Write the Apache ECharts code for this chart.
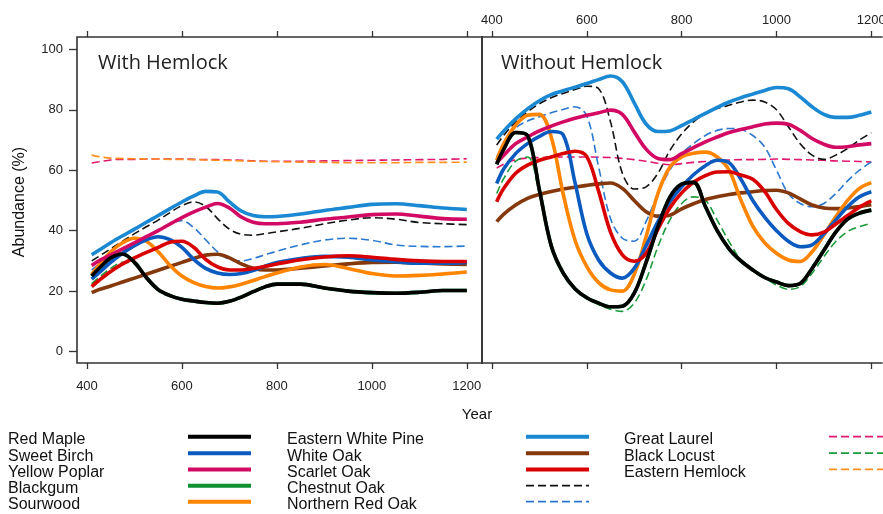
<!DOCTYPE html>
<html><head><meta charset="utf-8">
<script src="https://cdn.jsdelivr.net/npm/echarts@6/dist/echarts.min.js"></script>
<style>html,body{margin:0;padding:0;background:#fff}#c{width:883px;height:514px}</style>
</head><body><div id="c"></div><script>
// ---------- DATA ----------
const yearsWith = [410,425,450,475,500,525,550,575,600,625,650,675,700,725,750,775,800,850,900,950,1000,1050,1100,1150,1200];
const yearsWithout = [410,425,450,475,500,525,550,575,600,625,650,675,700,725,750,775,800,825,850,875,900,925,950,975,1000,1025,1050,1075,1100,1125,1150,1175,1200];
const xTickValues = [400,600,800,1000,1200];
const yTickValues = [0,20,40,60,80,100];
const panelTitles = ['With Hemlock','Without Hemlock'];
const speciesNames = ['Red Maple','Sweet Birch','Yellow Poplar','Blackgum','Sourwood','Eastern White Pine','White Oak','Scarlet Oak','Chestnut Oak','Northern Red Oak','Great Laurel','Black Locust','Eastern Hemlock'];

// With Hemlock
const redMapleWith      = [25,27.5,31,32.3,29.5,24.5,20.5,18.5,17.3,16.7,16.2,16,16.6,18,19.8,21.4,22.3,22.3,21,20,19.5,19.3,19.6,20.2,20.2];
const sweetBirchWith    = [24,26,29.5,32.5,35,37,38,37,34.5,30.5,27.5,26,25.5,25.8,26.8,28.2,29.5,30.8,31.5,31.2,30.3,29.7,29.2,29.2,29.5];
const yellowPoplarWith  = [28.5,30,32,34,36,38,40,42.2,44.3,46.2,47.8,49,47.5,44.5,42.8,42.3,42.3,42.8,43.8,44.5,45.3,45.5,44.8,44,43.8];
const blackgumWith      = [25,27.5,31,32.3,29.5,24.5,20.5,18.5,17.3,16.7,16.2,16,16.6,18,19.8,21.4,22.3,22.3,21,20,19.5,19.3,19.6,20.2,20.2];
const sourwoodWith      = [25.5,28.5,33,36,37.5,36.5,33,28.5,25,22.8,21.5,21,21.4,22.3,23.5,24.8,26,28,28.8,27.5,25.8,25,25.2,25.7,26.3];
const whitePineWith     = [32,33.5,36,38.3,40.5,42.8,45,47.3,49.5,51.5,53,52.8,49.5,46.5,45,44.6,44.7,45.5,46.7,47.7,48.7,48.9,48.3,47.5,47];
const whiteOakWith      = [19.5,20.5,21.7,23,24.3,25.6,26.9,28.2,29.5,30.8,31.9,32.2,31,29,27.6,27,27,27.6,28.3,29,29.5,29.6,29.3,29,28.8];
const scarletOakWith    = [21.5,23.5,26.5,29,31,32.8,34.5,36.2,36.5,34.5,30.5,28,27,27,27.5,28.2,29,30.4,31.3,31.7,31.2,30.5,30,29.8,29.8];
const chestnutOakWith   = [30,31.5,34,36.5,39,41.3,43.5,46,48.3,49.5,48,44,40.5,38.8,38.5,39,39.6,40.8,42.3,43.5,44.3,43.8,42.7,42.3,42];
const nRedOakWith       = [27,28.8,31,33.5,35.8,38,40.3,42.3,43.3,41,37,33,30.5,30,30.8,32,33.2,35.3,36.9,37.5,36.8,35.3,34.8,34.7,34.9];
const greatLaurelWith   = [62.4,62.8,63.4,63.6,63.6,63.7,63.7,63.7,63.7,63.6,63.5,63.5,63.4,63.3,63.1,63,63,63,63.1,63.2,63.3,63.4,63.5,63.6,63.8];
const blackLocustWith   = [22.5,24.5,27.5,29.5,29.5,24,20.2,18.3,17.2,16.5,16,15.8,16.4,17.8,19.6,21.3,22.2,22.4,21,19.8,19.2,19.1,19.5,20,20];
const hemlockWith       = [65,64.5,64,63.9,63.8,63.7,63.7,63.6,63.6,63.5,63.4,63.3,63.2,63.1,63,62.9,62.8,62.7,62.6,62.5,62.5,62.5,62.6,62.6,62.7];

// Without Hemlock
const redMapleWithout     = [62,67,72.5,71.5,53.5,35,26,20.8,17.8,16,14.8,15,19.3,29.5,41.3,51,55.4,56,48,40,34,30,27,24.5,23,21.8,22.5,27.5,33.5,39.5,43.8,45.8,46.8];
const sweetBirchWithout   = [55.6,60.5,65.5,68.8,71.2,72.8,71.8,56,39,30.3,26,24.3,27.5,35,43,49.5,54.5,58.5,61.5,63.3,62.5,57,50,44.5,40,36.5,34.7,35.3,39,43.5,47.9,51.2,52.9];
const yellowPoplarWithout = [62.5,65,68.8,71,73,74.6,76,77.2,78.2,79,79.9,78.5,72.7,67,63.9,63.5,65.5,67.5,69.4,71,72.5,73.5,74.4,75.3,75.6,75.2,73.2,70.5,68.6,67.6,67.8,68.4,68.8];
const blackgumWithout     = [62,67,72.5,71.5,53.5,35,26,20.8,17.8,16,14.8,15,19.3,29.5,41.3,51,55.4,56,48,40,34,30,27,24.5,23,21.8,22.5,27.5,33.5,39.5,43.8,45.8,46.8];
const sourwoodWithout     = [63.3,68.8,74.9,78.2,78.5,71,52.3,36.9,28.1,22.8,20.4,20,25.5,38,52.3,61,64.4,65.6,66,64.4,60,50.1,41.5,36,32.5,30.3,29.8,33,38.6,44.6,50,54,55.9];
const whitePineWithout    = [70.3,73,77,80.3,83,85,86.3,87.5,88.7,90,91.2,89.3,82.3,75.3,72.8,73,74.8,76.8,78.8,80.8,82.6,84,85.2,86.4,87.4,87,84.3,81,78.5,77.5,77.5,78.2,79.3];
const whiteOakWithout     = [43,45.5,48.5,50.7,52,53,53.8,54.4,55,55.5,55.8,54,50,46.3,44.8,45.1,47.2,48.9,50.3,51.2,52,52.5,52.9,53.3,53.4,52.5,50.5,48.5,47.5,47.3,47.5,48,48.6];
const scarletOakWithout   = [49.6,54,59,61.7,63.3,64.4,65.5,66.3,64.5,53,39.5,32,29.9,32.5,40.5,47.5,52.5,56,58.2,59.4,59.5,58.4,57,53,47,42.4,39.7,38.6,39.5,42.2,45,47.8,49.9];
const chestnutOakWithout  = [68.3,71.6,76,79.3,82,84,85.4,86.7,87.8,87,76,59,53.8,54.5,59,66.5,72,76,78.7,80.4,81.5,82.6,83.2,82.6,80,74.4,68.8,65,63.6,65,67.2,70,72.4];
const nRedOakWithout      = [64.4,68.8,74,76.3,77.7,79,80.1,81,78,61,44,37.5,36.5,43,52.3,60,65.5,68.8,71.5,73.2,73.8,73.5,71.5,67.7,60,52.3,49,47.9,49,52.3,56.5,60,62.8];
const greatLaurelWithout  = [60.7,62,63.5,64,64.2,64.3,64.4,64.4,64.4,64.3,64.2,63.9,63.5,63,62.3,61.8,62.2,62.6,62.9,63.2,63.4,63.5,63.5,63.6,63.7,63.6,63.5,63.4,63.3,63.1,63,62.9,62.7];
const blackLocustWithout  = [52.3,57.3,63,64.4,52,34,25.5,20.5,17.5,15.5,14,13.3,16,23.7,34.7,43.5,49,51.2,50.1,43.5,36.4,30.3,27,24.5,22,20.6,21.5,25.9,31.4,36.4,39.7,41.3,42.4];
const hemlockWithout      = [];

// ---------- STYLES ----------
const seriesWith = [redMapleWith,sweetBirchWith,yellowPoplarWith,blackgumWith,sourwoodWith,whitePineWith,whiteOakWith,scarletOakWith,chestnutOakWith,nRedOakWith,greatLaurelWith,blackLocustWith,hemlockWith];
const seriesWithout = [redMapleWithout,sweetBirchWithout,yellowPoplarWithout,blackgumWithout,sourwoodWithout,whitePineWithout,whiteOakWithout,scarletOakWithout,chestnutOakWithout,nRedOakWithout,greatLaurelWithout,blackLocustWithout,hemlockWithout];
const colors = ['#000000','#0a5ac0','#d20a64','#0e9130','#ff8400','#1a88d2','#84380c','#d80000','#111111','#2a78d0','#e0186e','#1a9a3a','#ff9020'];
const dashed = [false,false,false,false,false,false,false,false,true,true,true,true,true];
const drawOrder = [10,12,11,9,8,3,6,4,1,7,2,5,0];

const FONT = 'Liberation Sans, Arial, sans-serif';
const chart = echarts.init(document.getElementById('c'), null, {renderer:'canvas'});

const xMin = 379, xMaxL = 1232, xMaxR = 1222.5, yMin = -3.8, yMax = 104.1;
const tickStyle = {color:'#333', width:1.3};
const frameStyle = {color:'#333', width:1.6};
const plainNum = v => String(v);

function xAx(grid, pos, labels, max, line) {
  return {
    type:'value', gridIndex:grid, position:pos, min:xMin, max:max,
    axisLine:{show:line, onZero:false, lineStyle:frameStyle}, splitLine:{show:false},
    axisTick:{show:true, customValues:xTickValues, length:6, lineStyle:tickStyle},
    axisLabel:{show:labels, customValues:xTickValues, formatter:plainNum, fontFamily:FONT, fontSize:13, color:'#222',
               margin: pos==='bottom'?17:10, hideOverlap:false}
  };
}

const series = [];
drawOrder.forEach(i => {
  [[seriesWith[i], yearsWith, 0],[seriesWithout[i], yearsWithout, 1]].forEach(([vals, yrs, g]) => {
    if (!vals.length) return;
    series.push({
      type:'line', name:speciesNames[i], xAxisIndex: g===0?0:2, yAxisIndex:g,
      data: vals.map((v,k)=>[yrs[k], v]),
      smooth:0.35, showSymbol:false, silent:true,
      lineStyle:{color:colors[i], width: dashed[i]?1.6:3.6, type: dashed[i]?[8,4]:'solid', cap:'butt'}
    });
  });
});

// legend graphics
const legendTextX = [8, 287, 624];
const legendLineX = [[188,251],[526,589],[829,895]];
const rowY = [440, 456.5, 472.7, 489, 505];
const graphics = [];
speciesNames.forEach((n,i) => {
  const col = Math.floor(i/5), row = i%5;
  graphics.push({type:'text', x:legendTextX[col], y:rowY[row],
    style:{text:n, font:'16px '+FONT, fill:'#111', verticalAlign:'middle', align:'left'}});
  const ly = rowY[row] - 3.3;
  graphics.push({type:'line', shape:{x1:legendLineX[col][0], y1:ly, x2:legendLineX[col][1], y2:ly},
    style:{stroke:colors[i], lineWidth: dashed[i]?1.8:4, lineDash: dashed[i]?[8,4]:null}});
});
graphics.push({type:'text', x:98, y:63, style:{text:panelTitles[0], font:'20px Open Sans', fill:'#222', verticalAlign:'middle'}});
graphics.push({type:'text', x:501, y:63, style:{text:panelTitles[1], font:'20px Open Sans', fill:'#222', verticalAlign:'middle'}});
graphics.push({type:'text', x:477, y:415, style:{text:'Year', font:'15px '+FONT, fill:'#111', align:'center', verticalAlign:'middle'}});
graphics.push({type:'text', x:20, y:202, rotation:Math.PI/2, style:{text:'Abundance (%)', font:'16px '+FONT, fill:'#111', align:'center', verticalAlign:'middle'}});

chart.setOption({
  animation:false,
  backgroundColor:'#fff',
  grid:[
    {left:77, top:37, width:405, height:326, show:true, borderColor:'#333', borderWidth:1.6, outerBoundsMode:'none', containLabel:false},
    {left:482, top:37, width:400, height:326, show:false, outerBoundsMode:'none', containLabel:false}
  ],
  xAxis:[ xAx(0,'bottom',true,xMaxL,false), xAx(0,'top',false,xMaxL,false),
          xAx(1,'top',true,xMaxR,true), xAx(1,'bottom',false,xMaxR,true) ],
  yAxis:[
    {type:'value', gridIndex:0, min:yMin, max:yMax, position:'left',
     axisLine:{show:false, onZero:false}, splitLine:{show:false},
     axisTick:{show:true, customValues:yTickValues, length:8, lineStyle:tickStyle},
     axisLabel:{customValues:yTickValues, formatter:plainNum, fontFamily:FONT, fontSize:13, color:'#222', margin:14}},
    {type:'value', gridIndex:1, min:yMin, max:yMax, position:'left',
     axisLine:{show:true, onZero:false, lineStyle:frameStyle}, axisTick:{show:false}, axisLabel:{show:false},
     splitLine:{show:false}}
  ],
  series: series,
  graphic: graphics
});
</script></body></html>
